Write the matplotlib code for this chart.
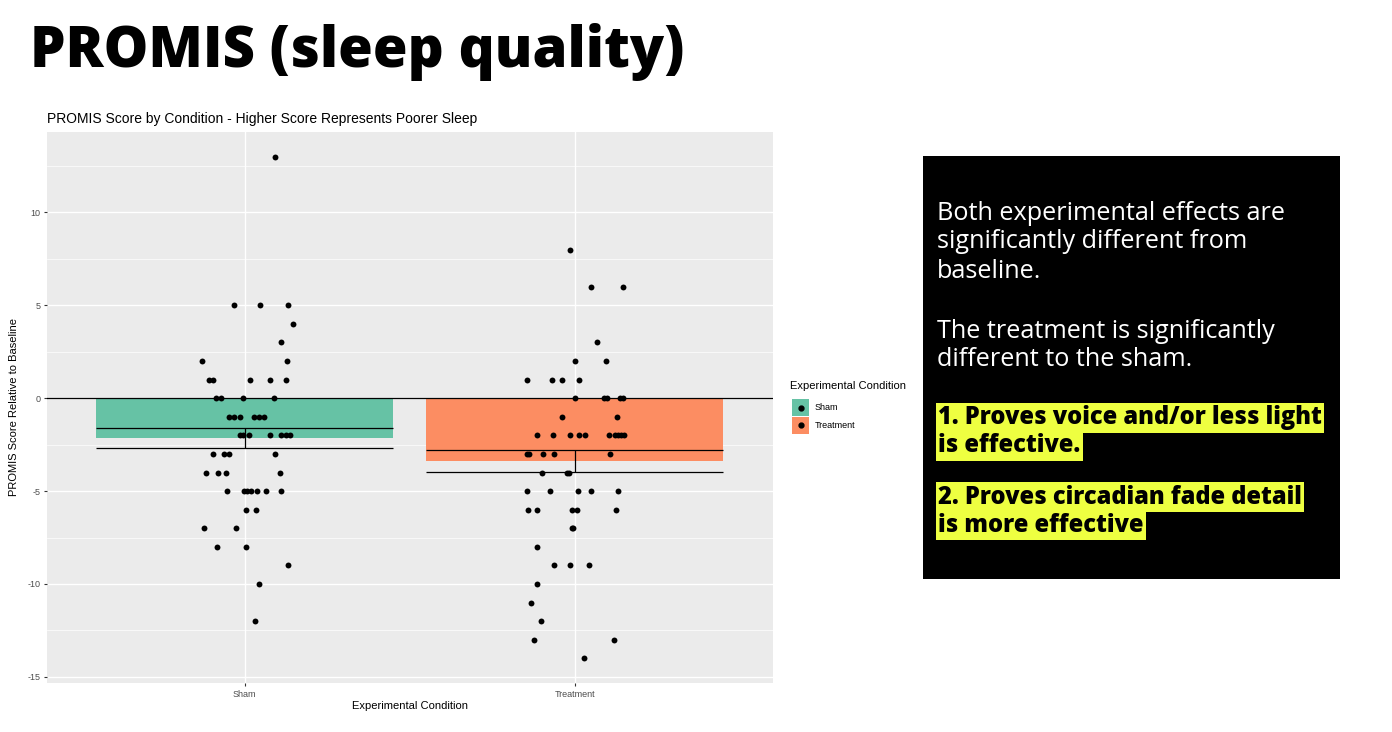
import matplotlib
matplotlib.use("Agg")
import matplotlib.pyplot as plt
from matplotlib.patches import Rectangle
from matplotlib.lines import Line2D
import numpy as np

plt.rcParams['axes.unicode_minus'] = False
plt.rcParams['font.family'] = ['Liberation Sans', 'DejaVu Sans']

# категорії та підсумки
conditions = ['Sham', 'Treatment']
bar_colors = ['#66c2a5', '#fc8d62']
mean_score = [-2.13, -3.39]
se_score = [0.54, 0.60]

# окремі бали (відносно baseline) та горизонтальний jitter
sham_scores = [13, 5, 5, 5, 4, 3, 2, 2, 1, 1, 1, 1, 1, 0, 0, 0, 0,
               -1, -1, -1, -1, -1, -1, -2, -2, -2, -2, -2, -2, -2,
               -3, -3, -3, -3, -4, -4, -4, -4, -5, -5, -5, -5, -5, -5, -5,
               -6, -6, -7, -7, -8, -8, -9, -10, -12]
sham_jitter = [0.092, -0.033, 0.047, 0.131, 0.147, 0.110, -0.130, 0.128,
               -0.108, -0.096, 0.015, 0.076, 0.126, -0.086, -0.073, -0.005, 0.087,
               -0.047, -0.032, -0.014, 0.028, 0.043, 0.058,
               -0.014, -0.005, 0.014, 0.076, 0.111, 0.124, 0.138,
               -0.097, -0.064, -0.047, 0.091, -0.116, -0.081, -0.056, 0.107,
               -0.054, -0.001, 0.008, 0.018, 0.037, 0.064, 0.109,
               0.003, 0.035, -0.125, -0.027, -0.084, 0.003, 0.131, 0.043, 0.032]

treat_scores = [8, 6, 6, 3, 2, 2, 1, 1, 1, 1, 0, 0, 0, 0, 0, -1, -1,
                -2, -2, -2, -2, -2, -2, -2, -2, -2, -2,
                -3, -3, -3, -3, -3, -4, -4, -4, -5, -5, -5, -5, -5,
                -6, -6, -6, -6, -6, -7, -7, -8, -9, -9, -9, -10, -11, -12,
                -13, -13, -14]
treat_jitter = [-0.014, 0.049, 0.146, 0.066, 0.000, 0.094,
                -0.145, -0.069, -0.038, 0.012, 0.000, 0.088, 0.098, 0.136, 0.146,
                -0.038, 0.128,
                -0.115, -0.066, -0.014, 0.013, 0.032, 0.103, 0.121, 0.130, 0.139, 0.148,
                -0.145, -0.138, -0.098, -0.063, 0.107, -0.101, -0.023, -0.017,
                -0.145, -0.075, 0.010, 0.048, 0.131,
                -0.142, -0.114, -0.010, 0.006, 0.124, -0.010, -0.005, -0.115,
                -0.063, -0.016, 0.043, -0.114, -0.133, -0.104, -0.124, 0.119, 0.027]

W, H = 1392, 732
fig = plt.figure(figsize=(W / 100, H / 100), dpi=100)


def fx(px):
    return px / W


def fy(py):
    return 1 - py / H


# заголовок слайду
fig.text(fx(30), fy(52), 'PROMIS (sleep quality)', fontsize=40.5, fontweight='heavy',
         family=['Open Sans', 'DejaVu Sans'], va='center', ha='left', color='black')

ax = fig.add_axes([fx(46.7), fy(683.3), fx(773 - 46.7), (683.3 - 131.7) / H])
ax.set_facecolor('#ebebeb')
for s in ax.spines.values():
    s.set_visible(False)

xpos = np.arange(1, len(conditions) + 1)
ax.set_xlim(0.4, 2.6)
ax.set_ylim(-15.35, 14.35)
ax.set_yticks(np.arange(-15, 11, 5))
ax.set_yticks(np.arange(-12.5, 14, 5), minor=True)
ax.set_xticks(xpos)
ax.set_xticklabels(conditions)
ax.grid(which='major', color='white', lw=1.0)
ax.grid(which='minor', axis='y', color='white', lw=0.5)
ax.set_axisbelow(True)
ax.tick_params(which='major', length=2.5, width=0.8, color='#333333',
               labelsize=6.5, labelcolor='#4d4d4d', pad=2)
ax.tick_params(which='minor', length=0)

ax.bar(xpos, mean_score, width=0.9, color=bar_colors, zorder=2)
ax.axhline(0, color='black', lw=0.9, zorder=3)
lo = np.array(mean_score) - np.array(se_score)
hi = np.array(mean_score) + np.array(se_score)
ax.hlines(lo, xpos - 0.45, xpos + 0.45, color='black', lw=0.9, zorder=3)
ax.hlines(hi, xpos - 0.45, xpos + 0.45, color='black', lw=0.9, zorder=3)
ax.vlines(xpos, lo, hi, color='black', lw=0.9, zorder=3)

ax.scatter(1 + np.array(sham_jitter), sham_scores, s=18, color='black', zorder=4, linewidths=0)
ax.scatter(2 + np.array(treat_jitter), treat_scores, s=18, color='black', zorder=4, linewidths=0)

ax.set_title('PROMIS Score by Condition - Higher Score Represents Poorer Sleep',
             loc='left', fontsize=10, pad=6, color='black')
ax.set_xlabel('Experimental Condition', fontsize=8, labelpad=2)
ax.set_ylabel('PROMIS Score Relative to Baseline', fontsize=8, labelpad=6)

# легенда вручну
fig.text(fx(790), fy(386), 'Experimental Condition', fontsize=8, va='center', ha='left')
for i, (lab, c) in enumerate(zip(conditions, bar_colors)):
    top = 399 + i * 17.5
    fig.patches.append(Rectangle((fx(792), fy(top + 17)), fx(17), 17 / H,
                                 transform=fig.transFigure, facecolor=c, edgecolor='none'))
    fig.lines.append(Line2D([fx(800.5)], [fy(top + 8.5)], transform=fig.transFigure,
                            marker='o', ms=3.5, color='black', ls='none'))
    fig.text(fx(815), fy(top + 8.5), lab, fontsize=6.5, va='center', ha='left')

# чорна панель з висновками
fig.patches.append(Rectangle((fx(923), fy(579)), fx(1340 - 923), (579 - 156) / H,
                             transform=fig.transFigure, facecolor='black', zorder=1))

body = ['Both experimental effects are', 'significantly different from', 'baseline.',
        'The treatment is significantly', 'different to the sham.']
body_y = [214, 242, 271, 331, 359]
for t, y in zip(body, body_y):
    fig.text(fx(937), fy(y), t, color='white', fontsize=18.2, va='center', ha='left',
             family=['Open Sans', 'DejaVu Sans'], zorder=2)

points = ['1. Proves voice and/or less light', 'is effective.',
          '2. Proves circadian fade detail', 'is more effective']
points_y = [418, 446, 497, 525]
for t, y in zip(points, points_y):
    fig.text(fx(938), fy(y), t, color='black', fontsize=17, fontweight='heavy',
             va='center', ha='left', family=['Open Sans', 'DejaVu Sans'], zorder=3,
             bbox=dict(boxstyle='square,pad=0.1', facecolor='#eeff41', edgecolor='none'))

fig.savefig('out.png', dpi=100, facecolor='white')
